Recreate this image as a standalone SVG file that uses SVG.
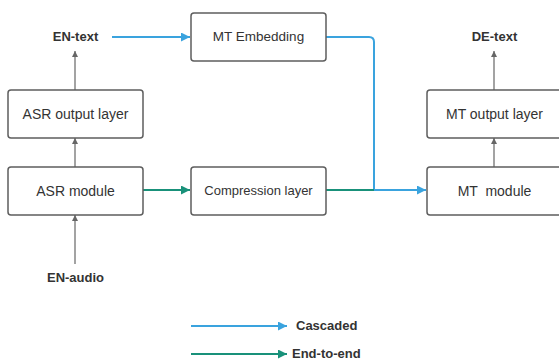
<svg xmlns="http://www.w3.org/2000/svg" width="559" height="360" viewBox="0 0 559 360">
<style>
.box{fill:#fff;stroke:#5e5e5e;stroke-width:1.5}
.t{font-family:"Liberation Sans",Arial,sans-serif;font-size:14px;fill:#333;text-anchor:middle;dominant-baseline:central}
.b{font-family:"Liberation Sans",Arial,sans-serif;font-size:13px;font-weight:bold;fill:#333;dominant-baseline:central}
.g{stroke:#666;stroke-width:1.2;fill:none}
.blue{stroke:#3aa3de;stroke-width:2;fill:none}
.green{stroke:#19917a;stroke-width:2;fill:none}
</style>
<defs>
<marker id="ag" viewBox="0 0 10 10" refX="10" refY="5" markerWidth="6" markerHeight="8" markerUnits="userSpaceOnUse" orient="auto"><path d="M0,0L10,5L0,10z" fill="#666"/></marker>
<marker id="ab" viewBox="0 0 10 10" refX="10" refY="5" markerWidth="11" markerHeight="9" markerUnits="userSpaceOnUse" orient="auto"><path d="M0,0L10,5L0,10z" fill="#3aa3de"/></marker>
<marker id="agr" viewBox="0 0 10 10" refX="10" refY="5" markerWidth="11" markerHeight="9" markerUnits="userSpaceOnUse" orient="auto"><path d="M0,0L10,5L0,10z" fill="#19917a"/></marker>
</defs>
<g id="connectors">
<path class="g" d="M75,90V51" marker-end="url(#ag)"/>
<path class="g" d="M75,167V138" marker-end="url(#ag)"/>
<path class="g" d="M75,264V215" marker-end="url(#ag)"/>
<path class="g" d="M494,90V51" marker-end="url(#ag)"/>
<path class="g" d="M494,167V138" marker-end="url(#ag)"/>
<path class="blue" d="M112,37H190" marker-end="url(#ab)"/>
<path class="blue" d="M326,37H369Q374,37 374,42V190H426" marker-end="url(#ab)"/>
<path class="green" d="M143,190H190" marker-end="url(#agr)"/>
<path class="green" d="M326,190H374"/>
<path class="blue" d="M191,326H287" marker-end="url(#ab)"/>
<path class="green" d="M191,354H287" marker-end="url(#agr)"/>
</g>
<g id="asr-output"><rect class="box" x="8" y="90" width="135" height="48" rx="3"/><text class="t" x="75.5" y="114">ASR output layer</text></g>
<g id="asr-module"><rect class="box" x="8" y="167" width="135" height="48" rx="3"/><text class="t" x="75.5" y="191">ASR module</text></g>
<g id="mt-embedding"><rect class="box" x="191" y="13" width="135" height="48" rx="3"/><text class="t" x="258.5" y="36" style="font-size:13.5px">MT Embedding</text></g>
<g id="compression"><rect class="box" x="191" y="167" width="135" height="48" rx="3"/><text class="t" x="258.5" y="190" style="font-size:13px">Compression layer</text></g>
<g id="mt-output"><rect class="box" x="427" y="90" width="135" height="48" rx="3"/><text class="t" x="494.5" y="114">MT output layer</text></g>
<g id="mt-module"><rect class="box" x="427" y="167" width="135" height="48" rx="3"/><text class="t" x="494.5" y="191" xml:space="preserve">MT  module</text></g>
<g id="en-text"><text class="b" x="75.5" y="36" text-anchor="middle">EN-text</text></g>
<g id="de-text"><text class="b" x="494.5" y="36" text-anchor="middle">DE-text</text></g>
<g id="en-audio"><text class="b" x="75.5" y="277" text-anchor="middle">EN-audio</text></g>
<g id="legend"><text class="b" x="296" y="325">Cascaded</text><text class="b" x="292" y="353">End-to-end</text></g>
</svg>
